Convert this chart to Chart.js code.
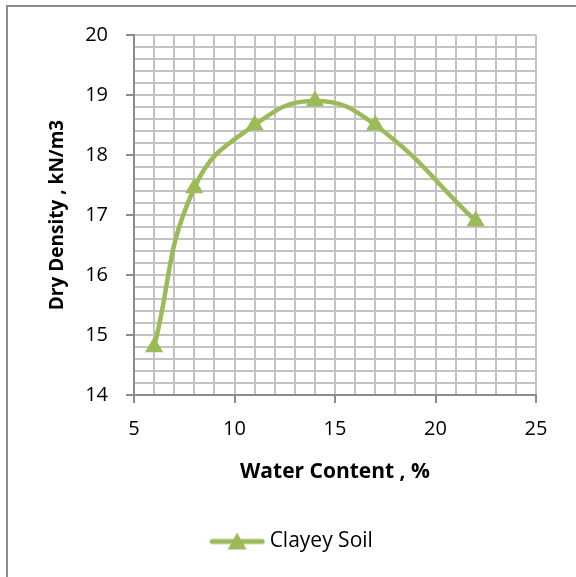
<!DOCTYPE html>
<html>
<head>
<meta charset="utf-8">
<script src="https://cdn.jsdelivr.net/npm/chart.js@4.4.1/dist/chart.umd.min.js"></script>
<style>
  html, body { margin: 0; padding: 0; background: #fff; }
  #wrap { position: relative; width: 576px; height: 577px; overflow: hidden; }
  #frame { position: absolute; left: 6px; top: 5px; width: 600px; height: 600px;
           border-left: 2px solid #8c8c8c; border-top: 2px solid #8c8c8c; }
  #chart { position: absolute; left: 0; top: 0; }
</style>
</head>
<body>
<div id="wrap">
  <div id="frame"></div>
  <canvas id="chart" width="576" height="577"></canvas>
</div>
<script>
// Compaction curve
const waterContent = [6, 8, 11, 14, 17, 22];
const dryDensity = [14.8, 17.45, 18.5, 18.9, 18.5, 16.9];
const seriesName = "Clayey Soil";
const xTitle = "Water Content , %";
const yTitle = "Dry Density , kN/m3";

const green = "#9bbb59";
const gridGray = "#c3c3c3";
const axisGray = "#8c8c8c";
const fontFamily = "'Open Sans', Lato, sans-serif";

// legend swatch: line with a triangle on it
function legendSwatch() {
  const c = document.createElement("canvas");
  c.width = 62;
  c.height = 22;
  const g = c.getContext("2d");
  g.strokeStyle = green;
  g.lineWidth = 5;
  g.lineCap = "round";
  g.beginPath();
  g.moveTo(9, 11);
  g.lineTo(59, 11);
  g.stroke();
  g.fillStyle = green;
  g.beginPath();
  g.moveTo(34, 2);
  g.lineTo(43.5, 19);
  g.lineTo(24.5, 19);
  g.closePath();
  g.fill();
  return c;
}

const isWhole = (v, step) => Math.abs(v / step - Math.round(v / step)) < 1e-6;

// the legend sits a bit right of the canvas centre in the original
const legendShift = {
  id: "legendShift",
  afterLayout(chart) {
    chart.legend.left += 23;
    chart.legend.right += 23;
  },
};

const ctx = document.getElementById("chart").getContext("2d");
new Chart(ctx, {
  type: "line",
  data: {
    datasets: [{
      label: seriesName,
      data: waterContent.map((w, i) => ({ x: w, y: dryDensity[i] })),
      borderColor: green,
      backgroundColor: green,
      borderWidth: 4.5,
      tension: 0.45,
      pointStyle: "triangle",
      pointRadius: 10.5,
      pointBorderWidth: 0,
      pointBackgroundColor: green,
      fill: false,
      clip: false,
    }],
  },
  plugins: [legendShift],
  options: {
    responsive: false,
    animation: false,
    layout: { padding: { left: 0, top: 35, right: 40, bottom: 15 } },
    plugins: {
      tooltip: { enabled: false },
      legend: {
        position: "bottom",
        labels: {
          usePointStyle: true,
          pointStyleWidth: 50,
          padding: 10,
          color: "#000",
          font: { family: fontFamily, size: 21 },
          generateLabels: (chart) => [{
            text: seriesName,
            pointStyle: legendSwatch(),
            fillStyle: green,
            strokeStyle: green,
            lineWidth: 0,
            datasetIndex: 0,
          }],
        },
      },
    },
    scales: {
      x: {
        type: "linear",
        min: 5,
        max: 25,
        afterFit: (scale) => { scale.height = 126; },
        ticks: {
          stepSize: 1,
          autoSkip: false,
          maxRotation: 0,
          padding: 14,
          color: "#000",
          font: { family: fontFamily, size: 20 },
          callback: (v) => (isWhole(v, 5) ? v : ""),
        },
        grid: {
          color: gridGray,
          lineWidth: 2,
          tickLength: 8,
          tickWidth: 2,
          tickColor: (c) => (c.tick && isWhole(c.tick.value, 5) ? axisGray : "rgba(0,0,0,0)"),
        },
        border: { color: axisGray, width: 2 },
        title: {
          display: true,
          text: xTitle,
          color: "#000",
          font: { family: fontFamily, size: 21, weight: "bold" },
          padding: { top: 0, bottom: 36 },
        },
      },
      y: {
        min: 14,
        max: 20,
        afterFit: (scale) => { scale.width = 134; },
        ticks: {
          stepSize: 0.2,
          autoSkip: false,
          padding: 18,
          color: "#000",
          font: { family: fontFamily, size: 20 },
          callback: (v) => (isWhole(v, 1) ? Math.round(v) : ""),
        },
        grid: {
          color: gridGray,
          lineWidth: 2,
          tickLength: 8,
          tickWidth: 2,
          tickColor: (c) => (c.tick && isWhole(c.tick.value, 1) ? axisGray : "rgba(0,0,0,0)"),
        },
        border: { color: axisGray, width: 2 },
        title: {
          display: true,
          text: yTitle,
          color: "#000",
          font: { family: fontFamily, size: 19, weight: "bold" },
          padding: { top: 46, bottom: 0 },
        },
      },
    },
  },
});
</script>
</body>
</html>
